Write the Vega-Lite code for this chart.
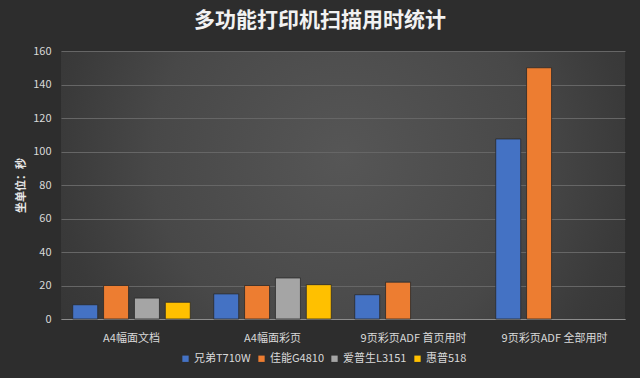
{
  "$schema": "https://vega.github.io/schema/vega-lite/v6.json",
  "width": 564,
  "height": 268,
  "autosize": {"type": "none"},
  "padding": {"left": 61, "top": 51, "right": 15, "bottom": 59},
  "background": "#2d2d2d",
  "title": {
    "text": "多功能打印机扫描用时统计",
    "font": "Noto Sans CJK SC",
    "fontSize": 21,
    "fontWeight": "bold",
    "color": "#f2f2f2",
    "anchor": "middle",
    "dx": -23,
    "offset": 14
  },
  "config": {
    "view": {
      "stroke": null,
      "fill": {
        "gradient": "radial",
        "x1": 0.5, "y1": 0.45, "r1": 0,
        "x2": 0.5, "y2": 0.45, "r2": 0.75,
        "stops": [
          {"offset": 0, "color": "#565656"},
          {"offset": 0.45, "color": "#484848"},
          {"offset": 0.67, "color": "#3a3a3a"},
          {"offset": 1, "color": "#2d2d2d"}
        ]
      }
    },
    "font": "Noto Sans CJK SC"
  },
  "data": {
    "values": [
      {"category": "A4幅面文档", "brand": "兄弟T710W", "value": 8.5},
      {"category": "A4幅面文档", "brand": "佳能G4810", "value": 20},
      {"category": "A4幅面文档", "brand": "爱普生L3151", "value": 12.5},
      {"category": "A4幅面文档", "brand": "惠普518", "value": 10},
      {"category": "A4幅面彩页", "brand": "兄弟T710W", "value": 15},
      {"category": "A4幅面彩页", "brand": "佳能G4810", "value": 20},
      {"category": "A4幅面彩页", "brand": "爱普生L3151", "value": 24.5},
      {"category": "A4幅面彩页", "brand": "惠普518", "value": 20.5},
      {"category": "9页彩页ADF 首页用时", "brand": "兄弟T710W", "value": 14.5},
      {"category": "9页彩页ADF 首页用时", "brand": "佳能G4810", "value": 22},
      {"category": "9页彩页ADF 全部用时", "brand": "兄弟T710W", "value": 107.5},
      {"category": "9页彩页ADF 全部用时", "brand": "佳能G4810", "value": 150}
    ]
  },
  "mark": {"type": "bar", "stroke": "#2a2a2a", "strokeWidth": 0.8},
  "encoding": {
    "x": {
      "field": "category",
      "type": "nominal",
      "sort": ["A4幅面文档", "A4幅面彩页", "9页彩页ADF 首页用时", "9页彩页ADF 全部用时"],
      "scale": {"paddingInner": 0, "paddingOuter": 0},
      "axis": {
        "title": null,
        "labelAngle": 0,
        "labelColor": "#d9d9d9",
        "labelFontSize": 11,
        "labelPadding": 13,
        "ticks": false,
        "domainColor": "#8c8c8c",
        "domainWidth": 1
      }
    },
    "xOffset": {
      "field": "brand",
      "type": "nominal",
      "scale": {
        "domain": ["兄弟T710W", "佳能G4810", "爱普生L3151", "惠普518"],
        "paddingInner": 0.19,
        "paddingOuter": 0.38
      }
    },
    "y": {
      "field": "value",
      "type": "quantitative",
      "scale": {"domain": [0, 160]},
      "axis": {
        "title": "坐单位：秒",
        "titleColor": "#e6e6e6",
        "titleFontSize": 11,
        "titleFontWeight": "bold",
        "titlePadding": 6,
        "values": [0, 20, 40, 60, 80, 100, 120, 140, 160],
        "labelColor": "#d9d9d9",
        "labelFontSize": 11,
        "labelPadding": 10,
        "ticks": false,
        "domain": false,
        "gridColor": "#666666",
        "gridWidth": 1
      }
    },
    "color": {
      "field": "brand",
      "type": "nominal",
      "scale": {
        "domain": ["兄弟T710W", "佳能G4810", "爱普生L3151", "惠普518"],
        "range": ["#4472c4", "#ed7d31", "#a5a5a5", "#ffc000"]
      },
      "legend": {
        "title": null,
        "orient": "none",
        "direction": "horizontal",
        "legendX": 119,
        "legendY": 302,
        "symbolType": "square",
        "symbolSize": 40,
        "symbolStrokeWidth": 0,
        "labelColor": "#d9d9d9",
        "labelFontSize": 11,
        "columnPadding": 5,
        "labelOffset": 3
      }
    }
  }
}
